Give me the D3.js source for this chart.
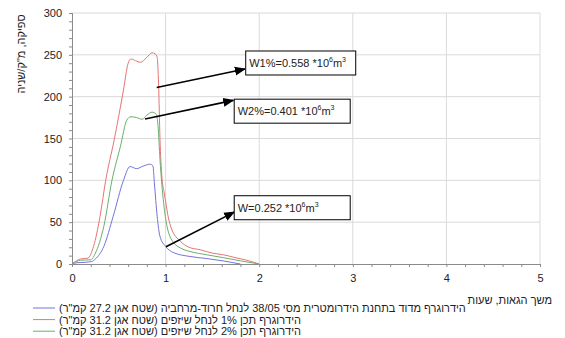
<!DOCTYPE html>
<html>
<head>
<meta charset="utf-8">
<script src="https://cdn.jsdelivr.net/npm/d3@7"></script>
<style>
  body { margin: 0; background: #fff; }
  text { font-family: "Liberation Sans", Arial, sans-serif; fill: #222; }
</style>
</head>
<body>
<div id="chart"></div>
<script>
// axis ticks
var xTicks = [0, 1, 2, 3, 4, 5];
var yTicks = [0, 50, 100, 150, 200, 250, 300];

// 1% design hydrograph (red)
var t1 = [0, 0.05, 0.09, 0.17, 0.23, 0.30, 0.36, 0.45, 0.55, 0.60, 0.63, 0.68, 0.73, 0.80, 0.855, 0.89, 0.91, 0.925, 0.94, 0.96, 0.985, 1.0, 1.03, 1.06, 1.16, 1.25, 1.37, 1.5, 1.62, 1.73, 1.85, 2.0];
var q1 = [0, 4, 6, 7, 21, 57, 100, 148, 208, 240, 245, 243, 241, 247, 252.5, 251, 247, 215, 150, 105, 85, 75, 55, 43, 27, 20, 17, 13, 11, 8, 5, 0];

// 2% design hydrograph (green)
var t2 = [0, 0.05, 0.09, 0.2, 0.25, 0.34, 0.427, 0.516, 0.586, 0.63, 0.69, 0.75, 0.80, 0.855, 0.90, 0.92, 0.94, 0.96, 0.98, 1.015, 1.05, 1.085, 1.16, 1.26, 1.44, 1.62, 1.8, 2.0];
var q2 = [0, 3, 4.5, 5, 13, 45, 100, 140, 172, 176, 175, 173, 178, 181.5, 179, 164, 125, 95, 72, 45, 32, 25.5, 19, 15, 11, 7.5, 3.8, 0];

// measured hydrograph 38/05 (blue)
var t0 = [0, 0.05, 0.14, 0.21, 0.25, 0.34, 0.44, 0.55, 0.62, 0.69, 0.76, 0.836, 0.865, 0.88, 0.91, 0.94, 1.0, 1.085, 1.26, 1.44, 1.62, 1.8];
var q0 = [0, 1.5, 2, 3, 6, 21, 57, 100, 116.5, 114, 117, 119.3, 117, 97, 57, 33, 21, 13.6, 9, 6.5, 3.6, 0];

var seriesNames = [
  "הידרוגרף מדוד בתחנת הידרומטרית מסי 38/05 לנחל חרוד-מרחביה (שטח אגן 27.2 קמ\"ר)",
  "הידרוגרף תכן 1% לנחל שיזפים (שטח אגן 31.2 קמ\"ר)",
  "הידרוגרף תכן 2% לנחל שיזפים (שטח אגן 31.2 קמ\"ר)"
];
var seriesColors = ["#7373dc", "#e87474", "#6cae6c"];

// volume labels: label, arrow tail (t,q), arrow head (t,q), box corner (t,q)
var notes = [
  {lead: "W1%=0.558 *10", from: [0.905, 211], to: [1.848, 233], box: [1.856, 254.6], w: 110},
  {lead: "W2%=0.401 *10", from: [0.78, 173.3], to: [1.723, 195.6], box: [1.733, 197], w: 116},
  {lead: "W=0.252 *10", from: [1.004, 20.7], to: [1.734, 62], box: [1.733, 81.6], w: 116}
];

var W = 565, H = 338;
var svg = d3.select("#chart").append("svg").attr("width", W).attr("height", H);

var x = d3.scaleLinear().domain([0, 5]).range([72, 540]);
var y = d3.scaleLinear().domain([0, 300]).range([264, 13]);

// grid
svg.append("g").selectAll("line").data(yTicks.slice(1)).enter().append("line")
  .attr("x1", x(0)).attr("x2", x(5))
  .attr("y1", function(d) { return y(d); }).attr("y2", function(d) { return y(d); })
  .attr("stroke", "#dadada");
svg.append("g").selectAll("line").data(xTicks.slice(1)).enter().append("line")
  .attr("x1", function(d) { return x(d); }).attr("x2", function(d) { return x(d); })
  .attr("y1", y(0)).attr("y2", y(300))
  .attr("stroke", "#dadada");

// minor ticks
var gxm = svg.append("g").attr("transform", "translate(0," + y(0) + ")")
  .call(d3.axisBottom(x).tickValues(d3.range(0, 5.01, 0.2)).tickSize(3).tickFormat(""));
var gym = svg.append("g").attr("transform", "translate(" + x(0) + ",0)")
  .call(d3.axisLeft(y).tickValues(d3.range(0, 301, 10)).tickSize(3).tickFormat(""));

// axes
var gx = svg.append("g").attr("transform", "translate(0," + y(0) + ")")
  .call(d3.axisBottom(x).tickValues(xTicks).tickSize(0).tickPadding(10).tickFormat(d3.format("d")));
var gy = svg.append("g").attr("transform", "translate(" + x(0) + ",0)")
  .call(d3.axisLeft(y).tickValues(yTicks).tickSize(0).tickPadding(10));
[gx, gy, gxm, gym].forEach(function(g) {
  g.selectAll("path, line").attr("stroke", "#8a8a8a");
  g.selectAll("text").style("font-size", "11px").style("font-family", "Liberation Sans, Arial, sans-serif").attr("fill", "#222");
});

// axis titles
svg.append("text")
  .attr("transform", "translate(25,54) rotate(-90)")
  .attr("text-anchor", "middle").attr("direction", "rtl")
  .style("font-size", "11px")
  .text("ספיקה, מ\"ק/שניה");
svg.append("text")
  .attr("x", 552).attr("y", 304)
  .attr("direction", "rtl").attr("text-anchor", "start")
  .style("font-size", "11px")
  .text("משך הגאות, שעות");

// series
var line = d3.line()
  .x(function(d) { return x(d[0]); })
  .y(function(d) { return y(d[1]); })
  .curve(d3.curveMonotoneX);
var series = [d3.zip(t0, q0), d3.zip(t1, q1), d3.zip(t2, q2)];
svg.append("g").selectAll("path").data(series).enter().append("path")
  .attr("d", line)
  .attr("fill", "none")
  .attr("stroke", function(d, i) { return seriesColors[i]; })
  .attr("stroke-width", 1);

// annotations
svg.append("defs").append("marker")
  .attr("id", "head").attr("viewBox", "0 0 10 10")
  .attr("refX", 9).attr("refY", 5)
  .attr("markerWidth", 7).attr("markerHeight", 7)
  .attr("orient", "auto")
  .append("path").attr("d", "M0,1 L10,5 L0,9 z").attr("fill", "#000");

var ng = svg.append("g").selectAll("g").data(notes).enter().append("g");
ng.append("line")
  .attr("x1", function(d) { return x(d.from[0]); }).attr("y1", function(d) { return y(d.from[1]); })
  .attr("x2", function(d) { return x(d.to[0]); }).attr("y2", function(d) { return y(d.to[1]); })
  .attr("stroke", "#000").attr("stroke-width", 1.6)
  .attr("marker-end", "url(#head)");
ng.append("rect")
  .attr("x", function(d) { return x(d.box[0]); }).attr("y", function(d) { return y(d.box[1]); })
  .attr("width", function(d) { return d.w; }).attr("height", 24)
  .attr("fill", "#fff").attr("stroke", "#000").attr("stroke-width", 1);
var nt = ng.append("text")
  .attr("x", function(d) { return x(d.box[0]) + 3.5; })
  .attr("y", function(d) { return y(d.box[1]) + 16; })
  .style("font-size", "11px");
nt.append("tspan").text(function(d) { return d.lead; });
nt.append("tspan").attr("dy", -5).style("font-size", "7px").text("6");
nt.append("tspan").attr("dy", 5).text("m");
nt.append("tspan").attr("dy", -5).style("font-size", "7px").text("3");

// legend
var lg = svg.append("g").selectAll("g").data(seriesNames).enter().append("g")
  .attr("transform", function(d, i) { return "translate(0," + (308 + i * 11.6) + ")"; });
lg.append("line").attr("x1", 33).attr("x2", 55).attr("y1", 0).attr("y2", 0)
  .attr("stroke", function(d, i) { return seriesColors[i]; }).attr("stroke-width", 1);
lg.append("text")
  .attr("x", 59).attr("y", 4)
  .attr("direction", "rtl").attr("text-anchor", "end")
  .style("font-size", "11px")
  .text(function(d) { return d; });
</script>
</body>
</html>
